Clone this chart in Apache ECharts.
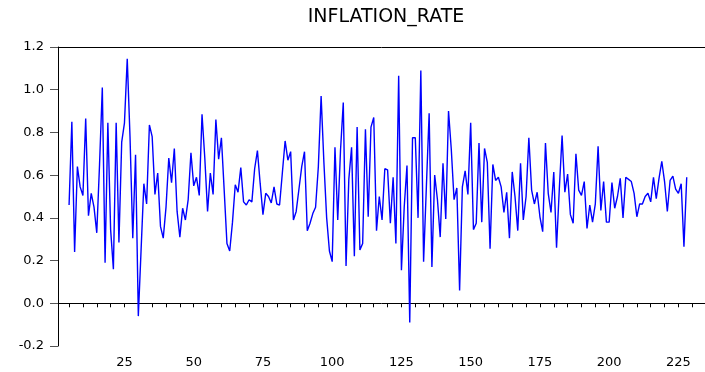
<!DOCTYPE html>
<html>
<head>
<meta charset="utf-8">
<script src="https://cdn.jsdelivr.net/npm/echarts@6/dist/echarts.min.js"></script>
<style>html,body{margin:0;padding:0;background:#fff}#c{width:705px;height:372px}</style>
</head>
<body>
<div id="c"></div>
<script>
var title = "INFLATION_RATE";
var firstObs = 5;
var inflation = [
0.46,0.85,0.24,0.64,0.545,0.505,0.865,0.41,0.515,0.45,
0.33,0.65,1.01,0.19,0.845,0.345,0.16,0.845,0.285,0.755,
0.845,1.145,0.78,0.305,0.695,-0.06,0.25,0.56,0.465,0.835,
0.78,0.51,0.61,0.36,0.305,0.45,0.68,0.565,0.725,0.43,
0.31,0.445,0.39,0.485,0.705,0.55,0.59,0.505,0.885,0.68,
0.43,0.61,0.51,0.86,0.675,0.775,0.53,0.28,0.245,0.38,
0.555,0.52,0.635,0.475,0.46,0.485,0.475,0.63,0.715,0.56,
0.415,0.515,0.5,0.47,0.545,0.465,0.46,0.61,0.76,0.67,
0.71,0.39,0.43,0.535,0.64,0.71,0.34,0.375,0.42,0.45,
0.64,0.97,0.66,0.4,0.245,0.195,0.73,0.39,0.715,0.94,
0.175,0.58,0.73,0.22,0.825,0.25,0.28,0.815,0.405,0.825,
0.87,0.34,0.5,0.39,0.63,0.625,0.375,0.59,0.28,1.065,
0.155,0.45,0.645,-0.09,0.775,0.775,0.4,1.09,0.195,0.545,
0.89,0.17,0.6,0.485,0.31,0.655,0.395,0.9,0.72,0.485,
0.54,0.06,0.545,0.62,0.51,0.845,0.345,0.375,0.75,0.38,
0.725,0.66,0.255,0.65,0.575,0.59,0.545,0.425,0.52,0.305,
0.615,0.5,0.34,0.655,0.39,0.5,0.775,0.53,0.465,0.52,
0.405,0.335,0.75,0.515,0.425,0.615,0.26,0.535,0.785,0.52,
0.605,0.415,0.375,0.7,0.53,0.505,0.57,0.35,0.46,0.38,
0.465,0.735,0.435,0.57,0.38,0.38,0.565,0.445,0.5,0.585,
0.4,0.59,0.58,0.57,0.515,0.405,0.465,0.465,0.5,0.515,
0.475,0.59,0.49,0.585,0.665,0.57,0.43,0.575,0.595,0.535,
0.515,0.56,0.265,0.59
];
var xTickValues = [5,10,15,20,25,30,35,40,45,50,55,60,65,70,75,80,85,90,95,100,105,110,115,120,125,130,135,140,145,150,155,160,165,170,175,180,185,190,195,200,205,210,215,220,225,230];
var xLabelValues = [25,50,75,100,125,150,175,200,225];
var yMin = -0.2, yMax = 1.2, yStep = 0.2;
var xMin = 1, xMax = 234.6;

var pts = inflation.map(function(v, i){ return [firstObs + i, v]; });

var chart = echarts.init(document.getElementById('c'), null, {renderer:'canvas'});
chart.setOption({
  animation: false,
  backgroundColor: '#fff',
  title: {
    text: title, left: 381, top: 3, textAlign: 'center',
    textStyle: {fontFamily: 'DejaVu Sans', fontSize: 19, fontWeight: 'normal', color: '#000'}
  },
  grid: {left: 58, right: 0, top: 47, bottom: 26, show: false, containLabel: false},
  xAxis: [{
    type: 'value', min: xMin, max: xMax, position: 'bottom',
    axisLine: {show: true, lineStyle: {color: '#000', width: 1}},
    splitLine: {show: false},
    axisTick: {show: true, length: 4, lineStyle: {color: '#000'}, customValues: xTickValues},
    axisLabel: {customValues: xLabelValues, margin: 10, fontFamily: 'DejaVu Sans', fontSize: 13, color: '#000'}
  }, {
    type: 'value', min: xMin, max: xMax, position: 'top',
    axisLine: {show: true, lineStyle: {color: '#000', width: 1}},
    splitLine: {show: false}, axisTick: {show: false}, axisLabel: {show: false}
  }],
  yAxis: {
    type: 'value', min: yMin, max: yMax, interval: yStep,
    axisLine: {show: true, lineStyle: {color: '#000', width: 1}},
    splitLine: {show: false},
    axisTick: {show: true, length: 8, lineStyle: {color: '#555'}},
    axisLabel: {margin: 14, fontFamily: 'DejaVu Sans', fontSize: 13, color: '#000',
      formatter: function(v){ return v.toFixed(1); }}
  },
  series: [{
    type: 'line', data: pts, showSymbol: false, symbol: 'none', xAxisIndex: 0,
    lineStyle: {color: '#0000FF', width: 1.4}
  }]
});
</script>
</body>
</html>
